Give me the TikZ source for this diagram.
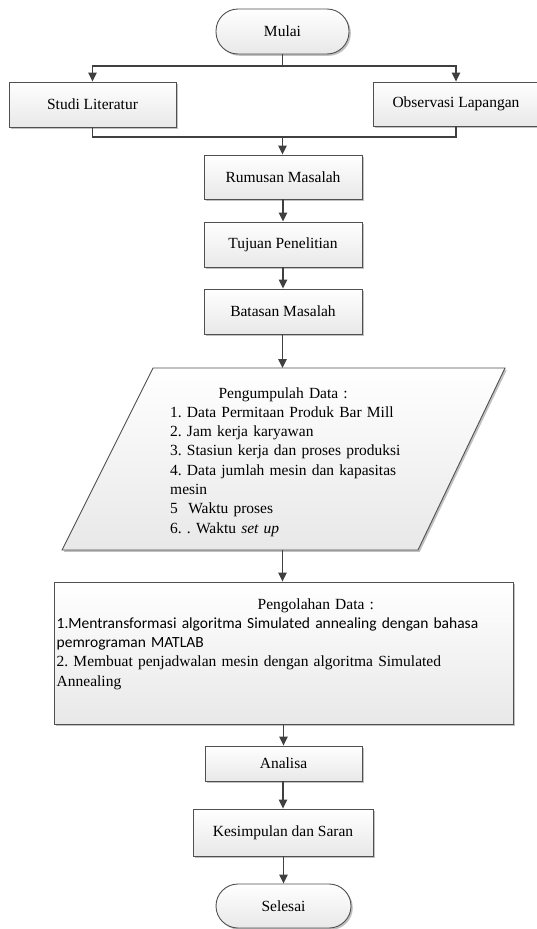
\documentclass[tikz,border=0pt]{standalone}
\usepackage{fontspec}
\setmainfont{Liberation Serif}
\newfontfamily\calibrifont{Carlito}
\usetikzlibrary{arrows.meta,shadows,calc}
\definecolor{linec}{HTML}{404040}
\definecolor{edgec}{HTML}{505050}
\frenchspacing
\hyphenpenalty=10000
\tikzset{
  base/.style={draw=edgec, line width=0.9pt, top color=white, bottom color=black!9,
    drop shadow={shadow xshift=1.8pt, shadow yshift=-1.8pt, fill=black!35, opacity=0.7},
    font=\fontsize{15.5}{19.3}\selectfont, inner sep=0pt},
  procbox/.style={base, rectangle},
  term/.style={base, rectangle, rounded corners=22pt},
  txt/.style={font=\fontsize{15.5}{19.3}\selectfont, inner sep=0pt, align=left},
  flow/.style={draw=linec, line width=1.2pt},
  arr/.style={flow, -{Triangle[length=9pt,width=8.5pt]}},
}
\begin{document}
\begin{tikzpicture}[x=1pt,y=-1pt]
\useasboundingbox (0,0) rectangle (537,929);

% nodes
\node[term, minimum width=133pt, minimum height=45pt] (mulai) at (282.5,31.5) {Mulai};
\node[procbox, minimum width=167pt, minimum height=45pt] (studi) at (92.5,104.5) {Studi Literatur};
\node[procbox, minimum width=166pt, minimum height=44pt] (obs) at (456,104) {Observasi Lapangan};
\node[procbox, minimum width=158pt, minimum height=44pt] (rum) at (283,177) {Rumusan Masalah};
\node[procbox, minimum width=158pt, minimum height=45pt] (tuj) at (283,244.5) {Tujuan Penelitian};
\node[procbox, minimum width=158pt, minimum height=45pt] (bat) at (283,311.5) {Batasan Masalah};

% data parallelogram
\coordinate (dA) at (153,368);
\coordinate (dB) at (505,368);
\coordinate (dC) at (418,550);
\coordinate (dD) at (62,550);
\path[base] (dA) -- (dB) -- (dC) -- (dD) -- cycle;
\coordinate (datTop) at (282.5,368);
\coordinate (datBot) at (282.5,550);
\node[txt, text width=280pt, anchor=base west] (datText) at (170,398)
  {\makebox[226pt][c]{Pengumpulah Data :}\\
   1. Data Permitaan Produk Bar Mill\\
   2. Jam kerja karyawan\\
   3. Stasiun kerja dan proses produksi\\
   4. Data jumlah mesin dan kapasitas\\
   mesin\\
   5\ \ Waktu proses\\
   6. . Waktu \textit{set up}};

\node[procbox, minimum width=459pt, minimum height=142pt] (proc) at (283.5,653) {};
\node[txt, text width=452pt, anchor=base west] (procText) at (56.5,609)
  {\hspace*{201pt}Pengolahan Data :\\
   {\calibrifont 1.Mentransformasi algoritma Simulated annealing dengan bahasa}\\
   {\calibrifont pemrograman MATLAB}\\
   2. Membuat penjadwalan mesin dengan algoritma Simulated\\
   Annealing};

\node[procbox, minimum width=157pt, minimum height=35pt] (ana) at (283.5,763.5) {Analisa};
\node[procbox, minimum width=180pt, minimum height=47pt] (kes) at (283,832.5) {Kesimpulan dan Saran};
\node[term, minimum width=135pt, minimum height=44pt] (sel) at (283.5,906) {Selesai};

% connectors
\coordinate (split) at (282.5,66);
\coordinate (merge) at (282.5,137);
\draw[flow] (mulai.south) -- (split);
\draw[arr] (split) -| (studi.north);
\draw[arr] (split) -| (obs.north);
\draw[flow] (studi.south) |- (merge);
\draw[flow] (obs.south) |- (merge);
\draw[arr] (merge) -- (merge |- rum.north);
\draw[arr] (rum.south) -- (tuj.north);
\draw[arr] (tuj.south) -- (bat.north);
\draw[arr] (bat.south -| datTop) -- (datTop);
\draw[arr] (datBot) -- (datBot |- proc.north);
\draw[arr] (proc.south -| ana.north) -- (ana.north);
\draw[arr] (ana.south -| kes.north) -- (kes.north);
\draw[arr] (kes.south -| sel.north) -- (sel.north);
\end{tikzpicture}
\end{document}
